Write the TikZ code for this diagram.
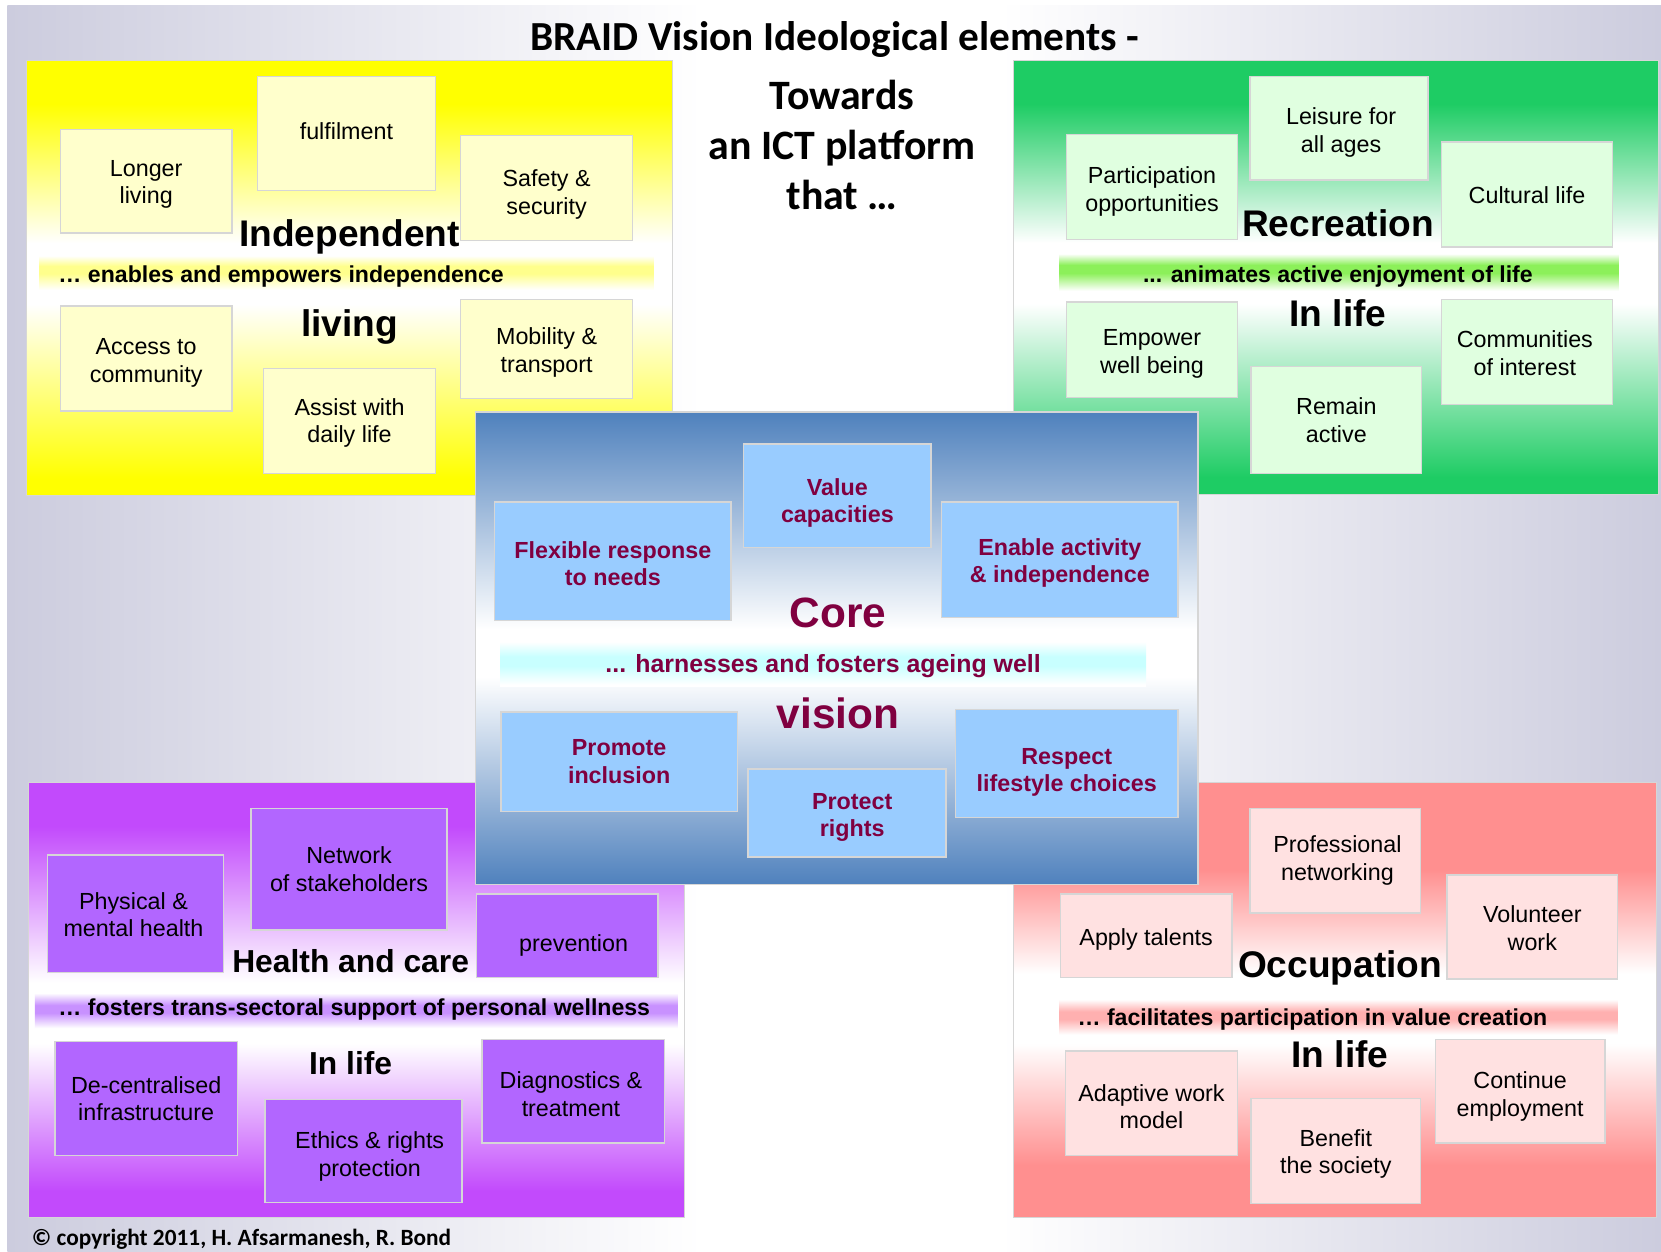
\documentclass[tikz,border=0pt]{standalone}
\usepackage{fontspec}
\setmainfont{Liberation Sans}
\newfontfamily\calibri{Carlito}
\definecolor{bggray}{RGB}{204,204,222}
\definecolor{bordc}{RGB}{214,214,214}
\definecolor{cyel}{RGB}{255,255,0}
\definecolor{yelbox}{RGB}{255,255,204}
\definecolor{yelband}{RGB}{255,255,140}
\definecolor{cgrn}{RGB}{30,204,100}
\definecolor{grnbox}{RGB}{224,255,224}
\definecolor{grnband}{RGB}{140,240,90}
\definecolor{cblu}{RGB}{79,129,189}
\definecolor{blubox}{RGB}{153,204,255}
\definecolor{cyaband}{RGB}{200,255,255}
\definecolor{cpur}{RGB}{194,74,252}
\definecolor{purbox}{RGB}{178,102,255}
\definecolor{purband}{RGB}{200,145,255}
\definecolor{cred}{RGB}{255,143,143}
\definecolor{redbox}{RGB}{255,225,225}
\definecolor{redband}{RGB}{255,176,176}
\definecolor{maroon}{RGB}{128,0,64}
\pgfdeclarehorizontalshading{bgsh}{100bp}{color(0bp)=(bggray); color(25bp)=(bggray); color(46bp)=(white); color(55bp)=(white); color(75bp)=(bggray); color(100bp)=(bggray)}
\pgfdeclareverticalshading{qyel}{100bp}{color(0bp)=(cyel); color(27bp)=(cyel); color(47bp)=(white); color(54bp)=(white); color(70bp)=(cyel); color(100bp)=(cyel)}
\pgfdeclareverticalshading{qgrn}{100bp}{color(0bp)=(cgrn); color(27bp)=(cgrn); color(47bp)=(white); color(54bp)=(white); color(70bp)=(cgrn); color(100bp)=(cgrn)}
\pgfdeclareverticalshading{qblu}{100bp}{color(0bp)=(cblu); color(25bp)=(cblu); color(47bp)=(white); color(52bp)=(white); color(75bp)=(cblu); color(100bp)=(cblu)}
\pgfdeclareverticalshading{qpur}{100bp}{color(0bp)=(cpur); color(28bp)=(cpur); color(45bp)=(white); color(52bp)=(white); color(70bp)=(cpur); color(100bp)=(cpur)}
\pgfdeclareverticalshading{qred}{100bp}{color(0bp)=(cred); color(31bp)=(cred); color(45bp)=(white); color(53bp)=(white); color(65bp)=(cred); color(100bp)=(cred)}
\pgfdeclareverticalshading{byel}{100bp}{color(0bp)=(white); color(27bp)=(white); color(49bp)=(yelband); color(59bp)=(yelband); color(73bp)=(white); color(100bp)=(white)}
\pgfdeclareverticalshading{bgrn}{100bp}{color(0bp)=(white); color(27bp)=(white); color(49bp)=(grnband); color(59bp)=(grnband); color(73bp)=(white); color(100bp)=(white)}
\pgfdeclareverticalshading{bcya}{100bp}{color(0bp)=(white); color(27bp)=(white); color(47bp)=(cyaband); color(57bp)=(cyaband); color(73bp)=(white); color(100bp)=(white)}
\pgfdeclareverticalshading{bpur}{100bp}{color(0bp)=(white); color(27bp)=(white); color(47bp)=(purband); color(57bp)=(purband); color(73bp)=(white); color(100bp)=(white)}
\pgfdeclareverticalshading{bred}{100bp}{color(0bp)=(white); color(27bp)=(white); color(47bp)=(redband); color(57bp)=(redband); color(73bp)=(white); color(100bp)=(white)}
\newcommand\bxfnt{\fontsize{22}{26}\selectfont}
\newcommand\hdfnt{\bfseries\fontsize{35}{40}\selectfont}
\newcommand\bandfnt{\bfseries\fontsize{21.8}{26}\selectfont}
% box: style, name, x1, y1, x2, y2, text dx, text dy, text
\newcommand\mybox[9]{%
  \node[#1, minimum width={(#5-#3)*1pt}, minimum height={(#6-#4)*1pt}] (#2) at ({(#3+#5)/2},{(#4+#6)/2}) {};
  \node[#1, draw=none, fill=none, minimum width=0pt, minimum height=0pt] (#2t) at ({(#3+#5)/2+#7},{(#4+#6)/2+#8}) {#9};}
\tikzset{
  x=1pt, y=-1pt,
  basebox/.style={draw=bordc, line width=1.3pt, align=center, inner sep=0pt, font=\bxfnt},
  ybox/.style={basebox, fill=yelbox},
  gbox/.style={basebox, fill=grnbox},
  cbox/.style={basebox, fill=blubox, text=maroon, font=\bxfnt\bfseries},
  pbox/.style={basebox, fill=purbox},
  rbox/.style={basebox, fill=redbox},
  quad/.style={draw=bordc, line width=1pt},
  head/.style={inner sep=0pt, font=\hdfnt},
  bandtxt/.style={inner sep=0pt, font=\bandfnt},
}
\begin{document}
\begin{tikzpicture}
\useasboundingbox (0,0) rectangle (1568,1181);
\fill[white] (0,0) rectangle (1568,1181);
\shade[shading=bgsh] (7,5) rectangle (1568,1181);
% title
\node[inner sep=0pt, font=\calibri\bfseries\fontsize{39}{46}\selectfont] (title) at (788,37) {BRAID Vision Ideological elements -};
\node[inner sep=0pt, align=center, font=\calibri\bfseries\fontsize{39.5}{47}\selectfont] (towards) at (795,137) {Towards\\an ICT platform\\that \dots};
% quadrants
\shade[shading=qyel, quad] (25,57) rectangle (635,468);
\shade[shading=qgrn, quad] (957,57) rectangle (1566,467);
\shade[shading=qpur, quad] (27,739) rectangle (646,1149);
\shade[shading=qred, quad] (957,739) rectangle (1564,1149);
% yellow
\shade[shading=byel] (37,240) rectangle (617,275);
\node[bandtxt, anchor=west] (yband) at (55,261) {\dots{} enables and empowers independence};
\mybox{ybox}{ylong}{57}{122}{219}{220}{0}{3}{Longer\\living}
\mybox{ybox}{yfulf}{243}{72}{411}{180}{0}{-2}{fulfilment}
\mybox{ybox}{ysafe}{435}{128}{597}{227}{0}{6}{Safety \&\\security}
\mybox{ybox}{yacc}{57}{289}{219}{388}{0}{4}{Access to\\community}
\mybox{ybox}{yassist}{249}{348}{411}{447}{0}{2}{Assist with\\daily life}
\mybox{ybox}{ymob}{435}{283}{597}{376}{0}{3}{Mobility \&\\transport}
\node[head] (yhead1) at (330,224) {Independent};
\node[head] (yhead2) at (330,309) {living};
% green
\shade[shading=bgrn] (1000,238) rectangle (1528,276);
\node[bandtxt] (gband) at (1263,261) {... animates active enjoyment of life};
\mybox{gbox}{gleis}{1180}{72}{1348}{170}{2}{4}{Leisure for\\all ages}
\mybox{gbox}{gpart}{1007}{127}{1168}{226}{0}{4}{Participation\\opportunities}
\mybox{gbox}{gcult}{1361}{134}{1522}{233}{0}{1}{Cultural life}
\mybox{gbox}{gemp}{1007}{285}{1168}{375}{0}{4}{Empower\\well being}
\mybox{gbox}{gcomm}{1361}{283}{1522}{382}{-2}{1}{Communities\\of interest}
\mybox{gbox}{grem}{1181}{346}{1342}{447}{0}{0}{Remain\\active}
\node[head] (ghead1) at (1263,211) {Recreation};
\node[head] (ghead2) at (1263,296) {In life};
% purple
\shade[shading=bpur] (33,936) rectangle (640,972);
\node[bandtxt, anchor=west] (pband) at (55,953) {\dots{} fosters trans-sectoral support of personal wellness};
\mybox{pbox}{pphys}{45}{807}{211}{918}{-2}{1}{Physical \&\\mental health}
\mybox{pbox}{pnet}{237}{763}{422}{878}{0}{0}{Network\\of stakeholders}
\mybox{pbox}{pprev}{450}{844}{621}{923}{6}{9}{prevention}
\mybox{pbox}{pdec}{52}{983}{224}{1091}{0}{0}{De-centralised\\infrastructure}
\mybox{pbox}{peth}{250}{1038}{436}{1135}{6}{5}{Ethics \& rights\\protection}
\mybox{pbox}{pdiag}{455}{981}{627}{1079}{-2}{3}{Diagnostics \&\\treatment}
\node[head, font=\bfseries\fontsize{30}{36}\selectfont] (phead1) at (331,907) {Health and care};
\node[head, font=\bfseries\fontsize{30}{36}\selectfont] (phead2) at (331,1004) {In life};
% red
\shade[shading=bred] (1000,942) rectangle (1527,978);
\node[bandtxt, anchor=west] (rband) at (1017,962) {\dots{} facilitates participation in value creation};
\mybox{rbox}{rprof}{1180}{763}{1341}{862}{2}{0}{Professional\\networking}
\mybox{rbox}{rapp}{1001}{844}{1163}{923}{0}{3}{Apply talents}
\mybox{rbox}{rvol}{1366}{826}{1527}{924}{0}{1}{Volunteer\\work}
\mybox{rbox}{radap}{1006}{992}{1168}{1091}{0}{3}{Adaptive work\\model}
\mybox{rbox}{rben}{1181}{1037}{1341}{1136}{0}{3}{Benefit\\the society}
\mybox{rbox}{rcont}{1355}{981}{1515}{1079}{0}{5}{Continue\\employment}
\node[head] (rhead1) at (1265,914) {Occupation};
\node[head] (rhead2) at (1265,995) {In life};
% core
\shade[shading=qblu, draw=bordc, line width=1.5pt] (449,389) rectangle (1131,835);
\shade[shading=bcya] (472,604) rectangle (1082,648);
\node[bandtxt, text=maroon, font=\bfseries\fontsize{23.5}{28}\selectfont] (cband) at (777,629) {... harnesses and fosters ageing well};
\mybox{cbox}{cval}{702}{419}{879}{517}{0}{7}{Value\\capacities}
\mybox{cbox}{cflex}{467}{474}{690}{586}{0}{2}{Flexible response\\to needs}
\mybox{cbox}{cenab}{889}{474}{1112}{583}{0}{3}{Enable activity\\\& independence}
\mybox{cbox}{cprom}{473}{672}{696}{766}{0}{0}{Promote\\inclusion}
\mybox{cbox}{cprot}{706}{726}{893}{809}{5}{4}{Protect\\rights}
\mybox{cbox}{cresp}{902}{670}{1112}{772}{0}{8}{Respect\\lifestyle choices}
\node[head, text=maroon, font=\bfseries\fontsize{40}{46}\selectfont] (chead1) at (791,579) {Core};
\node[head, text=maroon, font=\bfseries\fontsize{40}{46}\selectfont] (chead2) at (791,673) {vision};
% copyright
\node[inner sep=0pt, anchor=west, font=\calibri\bfseries\fontsize{22}{26}\selectfont] (copy) at (30,1170) {© copyright 2011, H. Afsarmanesh, R. Bond};
\end{tikzpicture}
\end{document}
